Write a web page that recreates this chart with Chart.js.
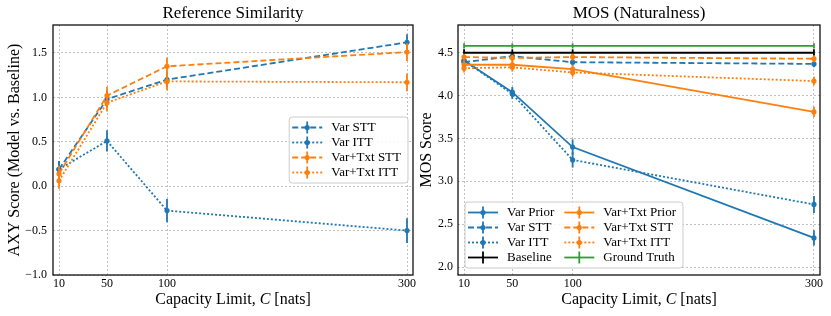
<!DOCTYPE html>
<html>
<head>
<meta charset="utf-8">
<script src="https://cdn.jsdelivr.net/npm/chart.js@4.4.0/dist/chart.umd.min.js"></script>
<style>
  html, body { margin: 0; padding: 0; background: #fff; }
  #wrap { position: relative; width: 831px; height: 316px; overflow: hidden; }
  #left { position: absolute; left: 0; top: 0; }
  #right { position: absolute; left: 415px; top: 0; }
</style>
</head>
<body>
<div id="wrap">
  <canvas id="left" width="430" height="316"></canvas>
  <canvas id="right" width="416" height="316"></canvas>
</div>
<script>
const capacities = [10, 50, 100, 300];
const xTicks = [10, 50, 100, 300];
const simTicks = [-1.0, -0.5, 0.0, 0.5, 1.0, 1.5];
const mosTicks = [2.0, 2.5, 3.0, 3.5, 4.0, 4.5];

// Reference similarity (AXY score), values and error bars
const simVarSTT = [0.19, 0.98, 1.20, 1.62];
const simVarSTTErr = [0.09, 0.09, 0.09, 0.09];
const simVarITT = [0.19, 0.51, -0.275, -0.50];
const simVarITTErr = [0.09, 0.12, 0.13, 0.14];
const simTxtSTT = [0.14, 1.02, 1.35, 1.51];
const simTxtSTTErr = [0.09, 0.10, 0.10, 0.10];
const simTxtITT = [0.06, 0.94, 1.18, 1.17];
const simTxtITTErr = [0.09, 0.10, 0.10, 0.10];

// MOS (naturalness)
const mosVarPrior = [4.41, 4.04, 3.40, 2.34];
const mosVarPriorErr = [0.05, 0.06, 0.09, 0.09];
const mosVarSTT = [4.39, 4.46, 4.39, 4.37];
const mosVarSTTErr = [0.05, 0.04, 0.04, 0.04];
const mosVarITT = [4.41, 4.02, 3.25, 2.73];
const mosVarITTErr = [0.05, 0.06, 0.09, 0.10];
const mosBaseline = [4.50, 4.50, 4.50, 4.50];
const mosBaselineErr = [0.04, 0.04, 0.04, 0.04];
const mosTxtPrior = [4.36, 4.36, 4.31, 3.81];
const mosTxtPriorErr = [0.05, 0.05, 0.05, 0.06];
const mosTxtSTT = [4.45, 4.44, 4.45, 4.43];
const mosTxtSTTErr = [0.04, 0.04, 0.04, 0.04];
const mosTxtITT = [4.32, 4.33, 4.27, 4.17];
const mosTxtITTErr = [0.05, 0.05, 0.05, 0.05];
const mosGroundTruth = [4.58, 4.58, 4.58, 4.58];
const mosGroundTruthErr = [0.03, 0.03, 0.03, 0.03];

const BLUE = '#1f77b4', ORANGE = '#ff7f0e', GREEN = '#2ca02c', BLACK = '#000000';
const SOLID = [], DASHED = [6, 3], DOTTED = [2, 2];
const SERIF = '"Liberation Serif", "DejaVu Serif", serif';

Chart.defaults.font.family = SERIF;
Chart.defaults.color = '#000';

function series(label, values, errors, color, dash, marker, i) {
  return {
    label: label,
    data: capacities.map((c, k) => ({ x: c, y: values[k] })),
    errors: errors,
    borderColor: color,
    backgroundColor: color,
    borderDash: dash,
    borderWidth: 1.8,
    pointRadius: marker ? 2.6 : 0,
    pointBorderWidth: 0,
    tension: 0,
    fill: false,
    order: 20 - i // later series on top, like matplotlib
  };
}

// vertical error bars, drawn through the y scale
const errorBars = {
  id: 'errorBars',
  afterDatasetDraw(chart, args) {
    const ds = chart.data.datasets[args.index];
    if (!ds.errors) return;
    const y = chart.scales.y, ctx = chart.ctx;
    ctx.save();
    ctx.strokeStyle = ds.borderColor;
    ctx.lineWidth = ds.borderWidth;
    ctx.setLineDash([]);
    args.meta.data.forEach((pt, i) => {
      const v = ds.data[i].y, e = ds.errors[i];
      ctx.beginPath();
      ctx.moveTo(pt.x, y.getPixelForValue(v - e));
      ctx.lineTo(pt.x, y.getPixelForValue(v + e));
      ctx.stroke();
    });
    ctx.restore();
  }
};

// axes frame + titles (title and x label centred on the plot area)
const frameAndTitles = {
  id: 'frameAndTitles',
  afterDatasetsDraw(chart, args, opts) {
    const ctx = chart.ctx, a = chart.chartArea;
    ctx.save();
    ctx.strokeStyle = '#111';
    ctx.lineWidth = 1.3;
    ctx.setLineDash([]);
    ctx.strokeRect(a.left, a.top, a.right - a.left, a.bottom - a.top);
    const cx = (a.left + a.right) / 2;
    ctx.fillStyle = '#000';
    ctx.textBaseline = 'middle';
    ctx.textAlign = 'center';
    ctx.font = '17px ' + SERIF;
    ctx.fillText(opts.title, cx, 14);
    // x label with italic C
    const parts = [['Capacity Limit, ', ''], ['C', 'italic '], [' [nats]', '']];
    let total = 0;
    parts.forEach(p => { ctx.font = p[1] + '16px ' + SERIF; total += ctx.measureText(p[0]).width; });
    let x = cx - total / 2;
    ctx.textAlign = 'left';
    parts.forEach(p => {
      ctx.font = p[1] + '16px ' + SERIF;
      ctx.fillText(p[0], x, 300);
      x += ctx.measureText(p[0]).width;
    });
    ctx.restore();
  }
};

// matplotlib-style legend box inside the plot area
const boxLegend = {
  id: 'boxLegend',
  afterDraw(chart, args, opts) {
    const ctx = chart.ctx, a = chart.chartArea;
    const dsets = chart.data.datasets;
    const cols = opts.cols, rows = Math.ceil(dsets.length / cols);
    const padX = 3, padY = 3, rowH = 15, sampleLen = 30, textGap = 9, colGap = 10;
    ctx.save();
    ctx.font = '13px ' + SERIF;
    const colW = [];
    for (let c = 0; c < cols; c++) {
      let w = 0;
      for (let r = 0; r < rows; r++) {
        const d = dsets[c * rows + r];
        if (d) w = Math.max(w, ctx.measureText(d.label).width);
      }
      colW.push(sampleLen + textGap + w);
    }
    const boxW = padX * 2 + 4 + colW.reduce((s, v) => s + v, 0) + colGap * (cols - 1);
    const boxH = padY * 2 + rows * rowH;
    let bx, by;
    if (opts.place === 'centerRight') {
      bx = a.right - 5 - boxW;
      by = (a.top + a.bottom) / 2 - boxH / 2;
    } else {
      bx = a.left + 7;
      by = a.bottom - 7 - boxH;
    }
    ctx.beginPath();
    ctx.roundRect(bx, by, boxW, boxH, 3);
    ctx.fillStyle = 'rgba(255,255,255,0.85)';
    ctx.fill();
    ctx.strokeStyle = '#cccccc';
    ctx.lineWidth = 1;
    ctx.stroke();
    let sx = bx + padX;
    for (let c = 0; c < cols; c++) {
      for (let r = 0; r < rows; r++) {
        const d = dsets[c * rows + r];
        if (!d) continue;
        const cy = by + padY + rowH * r + rowH / 2;
        ctx.strokeStyle = d.borderColor;
        ctx.lineWidth = d.borderWidth;
        ctx.setLineDash(d.borderDash);
        ctx.beginPath();
        ctx.moveTo(sx, cy);
        ctx.lineTo(sx + sampleLen, cy);
        ctx.stroke();
        ctx.setLineDash([]);
        ctx.beginPath();
        ctx.moveTo(sx + sampleLen / 2, cy - 6);
        ctx.lineTo(sx + sampleLen / 2, cy + 6);
        ctx.stroke();
        if (d.pointRadius > 0) {
          ctx.fillStyle = d.borderColor;
          ctx.beginPath();
          ctx.arc(sx + sampleLen / 2, cy, d.pointRadius, 0, Math.PI * 2);
          ctx.fill();
        }
        ctx.fillStyle = '#000';
        ctx.textBaseline = 'middle';
        ctx.textAlign = 'left';
        ctx.fillText(d.label, sx + sampleLen + textGap, cy + 0.5);
      }
      sx += colW[c] + colGap;
    }
    ctx.restore();
  }
};

function fmt(v) {
  return (v < 0 ? '\u2212' : '') + Math.abs(v).toFixed(1);
}

function makeOptions(cfg) {
  return {
    responsive: false,
    animation: false,
    events: [],
    layout: { padding: { top: 25, right: cfg.padRight, left: 0, bottom: 0 } },
    plugins: {
      legend: { display: false },
      tooltip: { enabled: false },
      frameAndTitles: { title: cfg.title },
      boxLegend: { cols: cfg.cols, place: cfg.place }
    },
    scales: {
      x: {
        type: 'linear',
        min: 5,
        max: 305,
        afterBuildTicks: s => { s.ticks = xTicks.map(v => ({ value: v })); },
        afterFit: s => { s.height = 41; },
        ticks: { font: { size: 12 }, padding: 2, callback: v => String(v), maxRotation: 0 },
        grid: { color: '#b0b0b0', lineWidth: 0.8, drawTicks: false },
        border: { display: false, dash: [2, 2] }
      },
      y: {
        min: cfg.yMin,
        max: cfg.yMax,
        afterBuildTicks: s => { s.ticks = cfg.yTicks.map(v => ({ value: v })); },
        afterFit: s => { s.width = cfg.yWidth; },
        ticks: { font: { size: 12 }, padding: cfg.tickPad, callback: fmt },
        grid: { color: '#b0b0b0', lineWidth: 0.8, drawTicks: false },
        border: { display: false, dash: [2, 2] },
        title: { display: true, text: cfg.yTitle, font: { size: 16 }, padding: { top: cfg.titlePad, bottom: 0 } }
      }
    }
  };
}

new Chart(document.getElementById('left'), {
  type: 'line',
  data: {
    datasets: [
      series('Var STT', simVarSTT, simVarSTTErr, BLUE, DASHED, true, 0),
      series('Var ITT', simVarITT, simVarITTErr, BLUE, DOTTED, true, 1),
      series('Var+Txt STT', simTxtSTT, simTxtSTTErr, ORANGE, DASHED, true, 2),
      series('Var+Txt ITT', simTxtITT, simTxtITTErr, ORANGE, DOTTED, true, 3)
    ]
  },
  options: makeOptions({
    title: 'Reference Similarity', yTitle: 'AXY Score (Model vs. Baseline)',
    yMin: -1.0, yMax: 1.815, yTicks: simTicks, yWidth: 53, tickPad: 6, titlePad: 5,
    padRight: 17, cols: 1, place: 'centerRight'
  }),
  plugins: [errorBars, frameAndTitles, boxLegend]
});

new Chart(document.getElementById('right'), {
  type: 'line',
  data: {
    datasets: [
      series('Var Prior', mosVarPrior, mosVarPriorErr, BLUE, SOLID, true, 0),
      series('Var STT', mosVarSTT, mosVarSTTErr, BLUE, DASHED, true, 1),
      series('Var ITT', mosVarITT, mosVarITTErr, BLUE, DOTTED, true, 2),
      series('Baseline', mosBaseline, mosBaselineErr, BLACK, SOLID, false, 3),
      series('Var+Txt Prior', mosTxtPrior, mosTxtPriorErr, ORANGE, SOLID, true, 4),
      series('Var+Txt STT', mosTxtSTT, mosTxtSTTErr, ORANGE, DASHED, true, 5),
      series('Var+Txt ITT', mosTxtITT, mosTxtITTErr, ORANGE, DOTTED, true, 6),
      series('Ground Truth', mosGroundTruth, mosGroundTruthErr, GREEN, SOLID, false, 7)
    ]
  },
  options: makeOptions({
    title: 'MOS (Naturalness)', yTitle: 'MOS Score',
    yMin: 1.907, yMax: 4.824, yTicks: mosTicks, yWidth: 43, tickPad: 5, titlePad: 2,
    padRight: 11, cols: 2, place: 'lowerLeft'
  }),
  plugins: [errorBars, frameAndTitles, boxLegend]
});
</script>
</body>
</html>
